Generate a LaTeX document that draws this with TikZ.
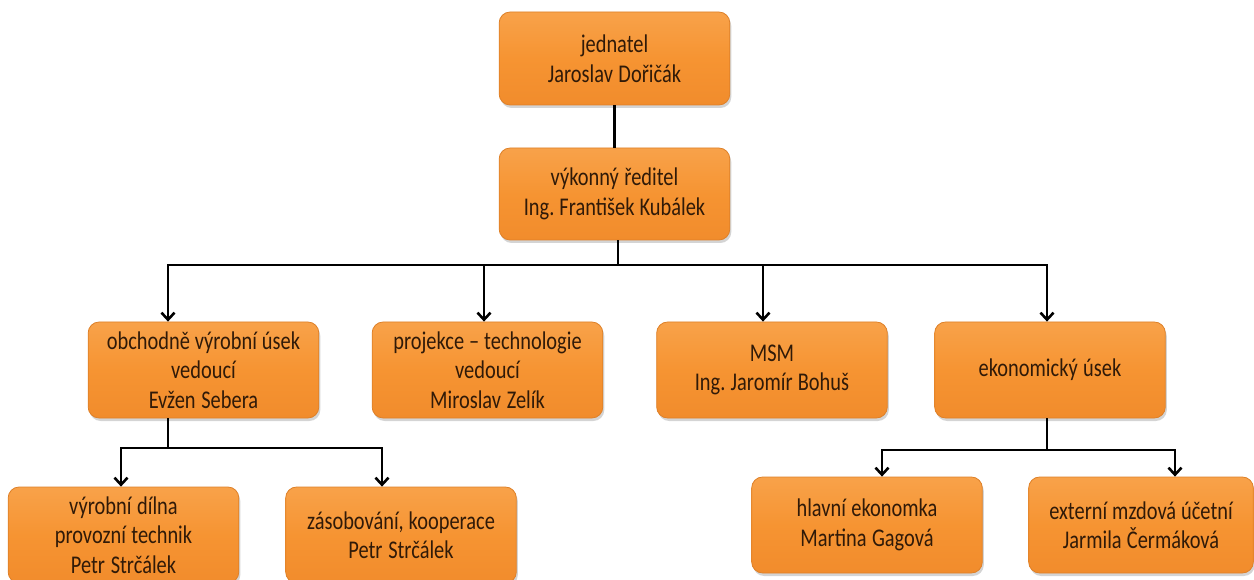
\documentclass[tikz,border=0pt]{standalone}
\usepackage{fontspec}
\setmainfont{Carlito}[FakeStretch=0.8]
\frenchspacing
\usetikzlibrary{arrows.meta,shadows}
\definecolor{oT}{RGB}{248,162,74}
\definecolor{oM}{RGB}{246,148,50}
\definecolor{oB}{RGB}{241,140,44}
\definecolor{oLine}{RGB}{222,128,40}
\definecolor{txt}{RGB}{48,26,8}
\tikzset{
  box/.style={draw=oLine, line width=0.8pt, rounded corners=11pt,
    top color=oT, bottom color=oB, middle color=oM,
    minimum width=228pt, text width=224pt, align=center,
    font=\fontsize{25.5}{29.5}\selectfont, text=txt,
    execute at begin node={\spaceskip=4.6pt plus 1pt minus 1pt\relax},
    drop shadow={shadow xshift=1.5pt, shadow yshift=-3pt, opacity=0.28, fill=black!60}},
  link/.style={line width=2.8pt, black},
  arr/.style={link, -{Straight Barb[length=7pt,width=13pt,line width=2.6pt]}}
}
\begin{document}
\begin{tikzpicture}[x=1pt,y=-1pt]
\useasboundingbox (0,0) rectangle (1254,580);
\node[box, minimum height=93pt] (j) at (614.5,58.5) {jednatel\\Jaroslav Dořičák};
\node[box, minimum height=92pt] (v) at (614.5,194) {výkonný ředitel\\Ing. František Kubálek};
\node[box, minimum height=96pt] (o) at (203.5,370) {obchodně výrobní úsek\\vedoucí\\Evžen Sebera};
\node[box, minimum height=96pt] (p) at (487.5,370) {projekce – technologie\\vedoucí\\Miroslav Zelík};
\node[box, minimum height=96pt] (m) at (772,370) {MSM\\Ing. Jaromír Bohuš};
\node[box, minimum height=96pt] (e) at (1050,370) {ekonomický úsek};
\node[box, minimum height=96pt] (d) at (123.5,535) {výrobní dílna\\provozní technik\\Petr Strčálek};
\node[box, minimum height=96pt] (z) at (401,535) {zásobování, kooperace\\Petr Strčálek};
\node[box, minimum height=96pt] (h) at (867,525) {hlavní ekonomka\\Martina Gagová};
\node[box, minimum height=96pt, minimum width=222pt, text width=218pt] (x) at (1141,525) {externí mzdová účetní\\Jarmila Čermáková};

\draw[link] (j.south) -- (v.north);
\coordinate (bus1) at (618,265);
\draw[link] ([xshift=3.5pt]v.south) -- (bus1);
\draw[arr] (bus1) -| ([xshift=-35.5pt]o.north);
\draw[arr] (bus1) -| ([xshift=-3.5pt]p.north);
\draw[arr] (bus1) -| ([xshift=-9pt]m.north);
\draw[arr] (bus1) -| ([xshift=-3pt]e.north);

\coordinate (bus2) at (168,448);
\draw[link] ([xshift=-35.5pt]o.south) -- (bus2);
\draw[arr] (bus2) -| ([xshift=-2.5pt]d.north);
\draw[arr] (bus2) -| ([xshift=-19pt]z.north);

\coordinate (bus3) at (1047,450);
\draw[link] ([xshift=-3pt]e.south) -- (bus3);
\draw[arr] (bus3) -| ([xshift=15pt]h.north);
\draw[arr] (bus3) -| ([xshift=34pt]x.north);
\end{tikzpicture}
\end{document}
